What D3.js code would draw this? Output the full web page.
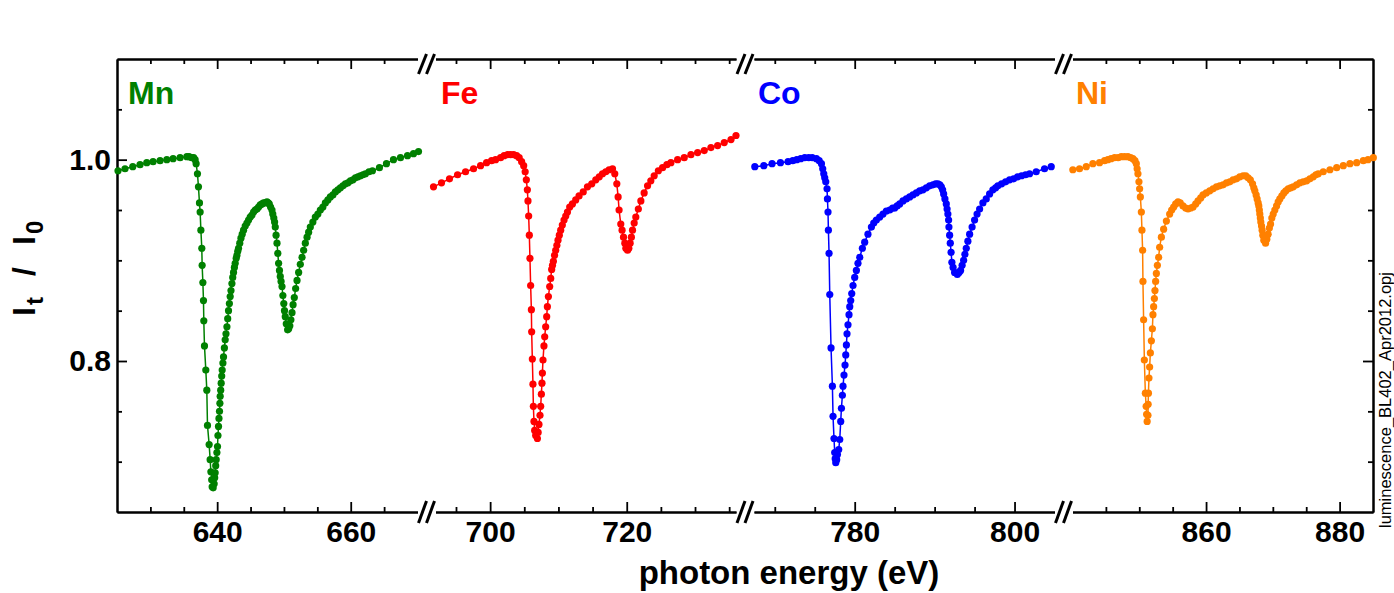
<!DOCTYPE html>
<meta charset="utf-8">
<title>L-edge transmission</title>
<script src="https://d3js.org/d3.v7.min.js"></script>
<body style="margin:0;background:#fff">
<div id="viz"></div>
<script>
const elements = ["Mn", "Fe", "Co", "Ni"];
const colors = ["#008000", "#ff0000", "#0000ff", "#ff8000"];
// x axis is broken into four energy windows (eV)
const xBreaks = [[625, 670], [692, 736], [767.4, 805], [840, 885]];
const xTickLabels = [[640, 660], [700, 720], [780, 800], [860, 880]];
const yDomain = [0.65, 1.1];
const yTickLabels = [0.8, 1.0];
const fileName = "luminescence_BL402_Apr2012.opj";

// [photon energy (eV), It/I0]
const mn = [[625.15,0.989],[626.2,0.991],[627.36,0.993],[628.45,0.995],[629.46,0.997],[630.4,0.998],[631.45,0.999],[632.46,1.000],[633.4,1.001],[634.45,1.002],[635.46,1.003],[635.8,1.003],[636.18,1.002],[636.48,1.002],[636.7,1.000],[636.85,0.996],[637.05,0.986],[637.2,0.973],[637.35,0.957],[637.45,0.948],[637.56,0.930],[637.7,0.912],[637.75,0.895],[637.86,0.878],[637.95,0.860],[638.0,0.840],[638.1,0.815],[638.3,0.791],[638.45,0.771],[638.55,0.736],[638.8,0.717],[638.95,0.702],[639.06,0.690],[639.18,0.682],[639.25,0.675],[639.4,0.674],[639.55,0.678],[639.63,0.684],[639.7,0.689],[639.78,0.696],[639.85,0.702],[639.96,0.709],[640.05,0.715],[640.12,0.726],[640.2,0.735],[640.27,0.743],[640.35,0.750],[640.41,0.758],[640.45,0.765],[640.53,0.771],[640.6,0.778],[640.68,0.785],[640.75,0.791],[640.86,0.798],[640.95,0.804],[641.08,0.813],[641.2,0.821],[641.32,0.827],[641.46,0.834],[641.58,0.842],[641.7,0.850],[641.83,0.857],[641.95,0.864],[642.07,0.870],[642.21,0.877],[642.33,0.883],[642.45,0.888],[642.58,0.893],[642.7,0.897],[642.85,0.902],[642.96,0.905],[643.08,0.909],[643.2,0.912],[643.38,0.917],[643.56,0.922],[643.75,0.926],[643.95,0.930],[644.2,0.934],[644.46,0.937],[644.7,0.940],[644.95,0.943],[645.21,0.945],[645.45,0.948],[645.7,0.950],[645.96,0.951],[646.2,0.953],[646.45,0.955],[646.71,0.956],[646.95,0.957],[647.2,0.957],[647.46,0.958],[647.65,0.957],[647.8,0.956],[648.0,0.953],[648.21,0.950],[648.33,0.946],[648.48,0.942],[648.6,0.938],[648.7,0.933],[648.82,0.925],[648.96,0.917],[649.08,0.907],[649.2,0.897],[649.33,0.890],[649.45,0.884],[649.57,0.879],[649.71,0.874],[649.84,0.865],[649.98,0.857],[650.08,0.850],[650.2,0.844],[650.35,0.837],[650.55,0.831],[650.71,0.832],[650.88,0.835],[651.04,0.841],[651.21,0.848],[651.37,0.856],[651.55,0.863],[651.75,0.872],[651.96,0.880],[652.2,0.888],[652.45,0.896],[652.71,0.903],[652.95,0.910],[653.2,0.917],[653.46,0.923],[653.7,0.928],[653.95,0.933],[654.33,0.938],[654.7,0.943],[655.08,0.946],[655.45,0.950],[655.83,0.953],[656.2,0.957],[656.58,0.960],[656.95,0.963],[657.33,0.965],[657.7,0.968],[658.08,0.970],[658.45,0.972],[658.83,0.974],[659.2,0.976],[659.58,0.977],[659.95,0.979],[660.33,0.980],[660.7,0.982],[661.08,0.983],[661.45,0.984],[661.83,0.985],[662.2,0.986],[662.73,0.988],[663.25,0.989],[664.3,0.992],[665.35,0.996],[666.4,1.000],[667.45,1.002],[668.5,1.004],[669.4,1.006],[670.15,1.008]];

const fe = [[691.71,0.973],[692.88,0.977],[694.05,0.981],[695.23,0.985],[696.4,0.988],[697.57,0.991],[698.6,0.994],[699.48,0.997],[700.21,0.999],[700.8,1.000],[701.53,1.002],[702.05,1.004],[702.56,1.005],[703.0,1.005],[703.44,1.005],[703.88,1.004],[704.25,1.002],[704.61,0.998],[704.91,0.994],[705.13,0.988],[705.3,0.980],[705.45,0.970],[705.54,0.959],[705.64,0.944],[705.74,0.925],[705.83,0.902],[705.93,0.875],[706.04,0.851],[706.08,0.829],[706.18,0.802],[706.27,0.777],[706.33,0.755],[706.42,0.740],[706.52,0.731],[706.67,0.726],[706.92,0.723],[707.03,0.729],[707.15,0.737],[707.3,0.746],[707.4,0.755],[707.5,0.767],[707.59,0.778],[707.65,0.788],[707.74,0.801],[707.88,0.815],[707.99,0.824],[708.13,0.834],[708.28,0.844],[708.38,0.854],[708.53,0.864],[708.72,0.874],[708.87,0.882],[709.01,0.891],[709.13,0.895],[709.26,0.899],[709.43,0.905],[709.6,0.910],[709.77,0.915],[709.94,0.920],[710.13,0.925],[710.33,0.930],[710.57,0.935],[710.82,0.940],[711.07,0.944],[711.32,0.948],[711.65,0.953],[712.05,0.956],[712.53,0.960],[713.02,0.964],[713.63,0.968],[714.25,0.973],[714.88,0.976],[715.47,0.980],[715.98,0.983],[716.45,0.986],[716.93,0.988],[717.42,0.990],[717.92,0.991],[718.25,0.986],[718.55,0.976],[718.74,0.963],[718.88,0.950],[719.13,0.936],[719.32,0.930],[719.53,0.923],[719.72,0.917],[719.87,0.912],[720.12,0.910],[720.31,0.912],[720.5,0.917],[720.68,0.923],[720.85,0.930],[721.09,0.937],[721.33,0.943],[721.7,0.951],[722.07,0.959],[722.55,0.967],[723.05,0.974],[723.53,0.979],[724.02,0.984],[724.63,0.989],[725.25,0.992],[725.88,0.995],[726.47,0.997],[727.45,1.000],[728.42,1.002],[729.4,1.005],[730.38,1.007],[731.35,1.009],[732.33,1.012],[733.31,1.014],[734.28,1.017],[735.27,1.020],[736.0,1.024]];

const co = [[767.5,0.993],[768.63,0.994],[769.66,0.996],[770.71,0.997],[771.66,0.998],[772.25,0.999],[772.75,1.000],[773.25,1.001],[773.75,1.002],[774.25,1.002],[774.69,1.002],[775.21,1.001],[775.56,0.999],[775.84,0.996],[776.0,0.991],[776.13,0.986],[776.25,0.982],[776.38,0.978],[776.54,0.971],[776.59,0.961],[776.66,0.948],[776.71,0.930],[776.79,0.907],[776.88,0.866],[777.04,0.813],[777.21,0.775],[777.29,0.745],[777.41,0.723],[777.5,0.709],[777.56,0.703],[777.63,0.699],[777.75,0.702],[777.84,0.707],[778.0,0.712],[778.13,0.722],[778.25,0.740],[778.34,0.753],[778.46,0.766],[778.54,0.775],[778.66,0.786],[778.79,0.796],[778.88,0.806],[778.96,0.816],[779.04,0.827],[779.16,0.836],[779.29,0.846],[779.38,0.854],[779.5,0.860],[779.63,0.867],[779.79,0.875],[780.0,0.883],[780.21,0.890],[780.41,0.897],[780.63,0.903],[780.96,0.912],[781.25,0.918],[781.66,0.926],[782.09,0.933],[782.38,0.937],[782.71,0.940],[783.13,0.943],[783.54,0.946],[783.96,0.949],[784.38,0.950],[784.75,0.952],[785.0,0.952],[785.31,0.954],[785.63,0.956],[786.04,0.959],[786.46,0.961],[786.88,0.963],[787.29,0.965],[787.71,0.967],[788.13,0.969],[788.54,0.970],[788.96,0.972],[789.38,0.974],[789.79,0.975],[790.13,0.976],[790.41,0.976],[790.66,0.975],[790.84,0.973],[791.0,0.970],[791.13,0.966],[791.29,0.961],[791.46,0.956],[791.56,0.951],[791.66,0.946],[791.75,0.940],[791.79,0.933],[791.88,0.925],[791.96,0.917],[792.06,0.908],[792.16,0.898],[792.31,0.893],[792.5,0.888],[792.84,0.886],[793.06,0.888],[793.25,0.890],[793.44,0.895],[793.63,0.900],[793.79,0.906],[793.96,0.912],[794.16,0.919],[794.38,0.926],[794.69,0.933],[795.0,0.940],[795.31,0.946],[795.63,0.951],[796.04,0.957],[796.46,0.961],[796.88,0.966],[797.29,0.970],[797.63,0.972],[797.91,0.974],[798.38,0.976],[798.88,0.978],[799.38,0.980],[799.88,0.981],[800.38,0.983],[800.88,0.984],[801.38,0.985],[801.88,0.986],[802.71,0.988],[803.75,0.991],[804.59,0.993]];

const ni = [[840.05,0.990],[841.05,0.991],[842.06,0.993],[843.05,0.996],[844.05,0.997],[844.8,0.999],[845.3,1.000],[845.78,1.001],[846.3,1.002],[846.83,1.002],[847.31,1.003],[847.8,1.003],[848.3,1.003],[848.7,1.002],[849.05,1.001],[849.35,0.999],[849.56,0.996],[849.68,0.991],[849.8,0.986],[849.95,0.978],[850.05,0.971],[850.16,0.963],[850.31,0.948],[850.4,0.930],[850.5,0.910],[850.55,0.879],[850.65,0.841],[850.76,0.801],[850.91,0.768],[851.03,0.755],[851.1,0.747],[851.18,0.740],[851.3,0.746],[851.33,0.757],[851.37,0.768],[851.45,0.783],[851.55,0.794],[851.66,0.808],[851.81,0.820],[851.96,0.832],[852.05,0.846],[852.15,0.854],[852.26,0.862],[852.35,0.870],[852.45,0.879],[852.56,0.887],[852.71,0.895],[852.9,0.903],[853.05,0.913],[853.31,0.923],[853.65,0.931],[854.06,0.939],[854.55,0.946],[854.85,0.950],[855.15,0.953],[855.45,0.956],[855.8,0.958],[856.13,0.957],[856.55,0.954],[856.95,0.952],[857.3,0.951],[857.7,0.952],[858.05,0.953],[858.45,0.956],[858.8,0.959],[859.2,0.962],[859.55,0.965],[860.03,0.967],[860.55,0.969],[861.05,0.971],[861.56,0.973],[862.05,0.974],[862.55,0.975],[863.06,0.977],[863.55,0.978],[864.05,0.980],[864.56,0.981],[865.05,0.983],[865.55,0.984],[865.95,0.984],[866.3,0.982],[866.63,0.980],[866.96,0.976],[867.15,0.972],[867.3,0.969],[867.5,0.965],[867.65,0.961],[867.8,0.957],[867.9,0.954],[867.98,0.950],[868.05,0.946],[868.13,0.942],[868.2,0.938],[868.31,0.934],[868.4,0.930],[868.5,0.925],[868.65,0.920],[868.91,0.917],[869.1,0.921],[869.3,0.926],[869.48,0.932],[869.66,0.936],[869.85,0.942],[870.05,0.946],[870.3,0.950],[870.56,0.954],[870.8,0.958],[871.05,0.961],[871.35,0.964],[871.65,0.967],[871.95,0.969],[872.3,0.971],[872.67,0.972],[873.05,0.973],[873.56,0.975],[874.05,0.977],[874.55,0.978],[875.06,0.979],[875.55,0.981],[876.05,0.983],[876.45,0.985],[876.8,0.986],[877.55,0.988],[878.55,0.990],[879.56,0.992],[880.55,0.994],[881.55,0.996],[882.56,0.997],[883.55,0.999],[884.25,1.000],[885.05,1.002]];

const spectra = [mn, fe, co, ni];

const width = 1394, height = 593;
const margin = {left: 117, right: 1373, top: 59, bottom: 512};
const gap = 18;
const segW = (margin.right - margin.left - gap * 3) / 4;
const labelX = [128, 441, 758, 1076];
const font = "'Liberation Sans', Arial, sans-serif";

const svg = d3.select("#viz").append("svg")
  .attr("width", width).attr("height", height)
  .style("font-family", font);

const xs = xBreaks.map((d, i) => {
  const x0 = margin.left + i * (segW + gap);
  return d3.scaleLinear().domain(d).range([x0, x0 + segW]);
});
const y = d3.scaleLinear().domain(yDomain).range([margin.bottom, margin.top]);

function minorTicks(dom, step) {
  const out = [];
  for (let v = Math.ceil(dom[0] / step) * step; v <= dom[1] + 1e-9; v += step) {
    if (v > dom[0] + 1e-6 && v < dom[1] - 1e-6) out.push(+v.toFixed(4));
  }
  return out;
}

function styleAxis(g) {
  g.selectAll(".domain").attr("stroke", "#000").attr("stroke-width", 2);
  g.selectAll(".tick line").attr("stroke", "#000").attr("stroke-width", 1.8);
  g.selectAll("text").attr("fill", "#000").style("font-family", font)
    .style("font-weight", "bold").style("font-size", "30px");
}

// x axes, per segment, bottom and top
xs.forEach((x, i) => {
  const minor = minorTicks(x.domain(), 5).filter(v => !xTickLabels[i].includes(v));
  svg.append("g").attr("transform", `translate(0,${margin.bottom})`)
    .call(d3.axisBottom(x).tickValues(minor).tickSize(-5).tickSizeOuter(0).tickFormat(""))
    .call(styleAxis);
  svg.append("g").attr("transform", `translate(0,${margin.bottom})`)
    .call(d3.axisBottom(x).tickValues(xTickLabels[i]).tickSize(-10).tickSizeOuter(0).tickPadding(9).tickFormat(d3.format("d")))
    .call(styleAxis);
  svg.append("g").attr("transform", `translate(0,${margin.top})`)
    .call(d3.axisTop(x).tickValues(minor).tickSize(-5).tickSizeOuter(0).tickFormat(""))
    .call(styleAxis);
  svg.append("g").attr("transform", `translate(0,${margin.top})`)
    .call(d3.axisTop(x).tickValues(xTickLabels[i]).tickSize(-10).tickSizeOuter(0).tickFormat(""))
    .call(styleAxis);
});

// y axes
const yMinor = minorTicks(yDomain, 0.05).filter(v => !yTickLabels.some(t => Math.abs(t - v) < 1e-6));
svg.append("g").attr("transform", `translate(${margin.left},0)`)
  .call(d3.axisLeft(y).tickValues(yMinor).tickSize(-5).tickSizeOuter(0).tickFormat(""))
  .call(styleAxis);
svg.append("g").attr("transform", `translate(${margin.left},0)`)
  .call(d3.axisLeft(y).tickValues(yTickLabels).tickSize(-10).tickSizeOuter(0).tickPadding(6).tickFormat(d3.format(".1f")))
  .call(styleAxis);
svg.append("g").attr("transform", `translate(${margin.right},0)`)
  .call(d3.axisRight(y).tickValues(yMinor).tickSize(-5).tickSizeOuter(0).tickFormat(""))
  .call(styleAxis);
svg.append("g").attr("transform", `translate(${margin.right},0)`)
  .call(d3.axisRight(y).tickValues(yTickLabels).tickSize(-10).tickSizeOuter(0).tickFormat(""))
  .call(styleAxis);

// break marks
for (let i = 0; i < 3; i++) {
  const cx = (xs[i].range()[1] + xs[i + 1].range()[0]) / 2;
  [[margin.top, 15, -5], [margin.bottom, 11, -11]].forEach(([yy, lo, hi]) => {
    [-4, 4].forEach(off => {
      svg.append("line")
        .attr("x1", cx + off - 4).attr("y1", yy + lo)
        .attr("x2", cx + off + 4).attr("y2", yy + hi)
        .attr("stroke", "#000").attr("stroke-width", 3);
    });
  });
}

// spectra
spectra.forEach((data, i) => {
  const x = xs[i];
  const g = svg.append("g");
  g.append("path").datum(data)
    .attr("fill", "none").attr("stroke", colors[i]).attr("stroke-width", 1.5)
    .attr("d", d3.line().x(d => x(d[0])).y(d => y(d[1])));
  g.selectAll("circle").data(data).join("circle")
    .attr("cx", d => x(d[0])).attr("cy", d => y(d[1])).attr("r", 3.6)
    .attr("fill", colors[i]);
  svg.append("text")
    .attr("x", labelX[i]).attr("y", 104)
    .attr("fill", colors[i])
    .style("font-weight", "bold").style("font-size", "32px")
    .text(elements[i]);
});

// axis titles
svg.append("text")
  .attr("x", (margin.left + margin.right) / 2 + 44).attr("y", 584)
  .attr("text-anchor", "middle")
  .style("font-weight", "bold").style("font-size", "33px")
  .text("photon energy (eV)");

const yl = svg.append("text")
  .attr("transform", "translate(35,316) rotate(-90)")
  .style("font-weight", "bold").style("font-size", "32px");
yl.append("tspan").attr("x", 0).attr("y", 0).text("I");
yl.append("tspan").attr("x", 11).attr("y", 8).style("font-size", "24px").text("t");
yl.append("tspan").attr("x", 40).attr("y", 0).text("/");
yl.append("tspan").attr("x", 71).attr("y", 0).text("I");
yl.append("tspan").attr("x", 82).attr("y", 8).style("font-size", "24px").text("0");

svg.append("text")
  .attr("transform", "translate(1391,528) rotate(-90)")
  .style("font-size", "16.5px")
  .text(fileName);
</script>
